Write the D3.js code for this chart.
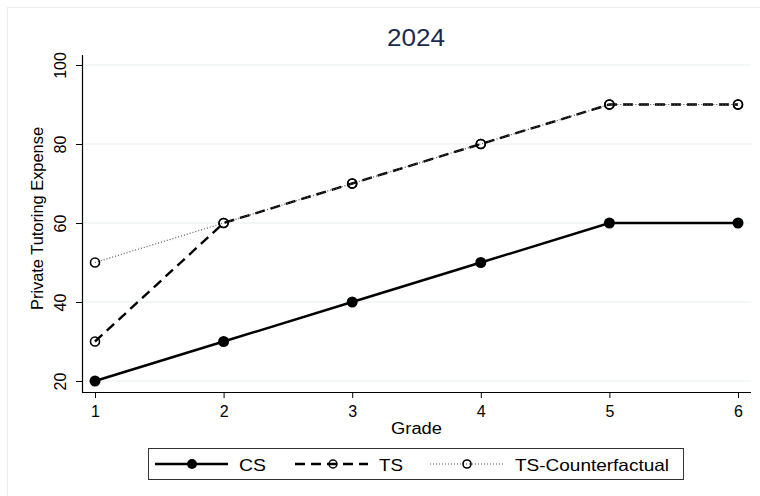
<!DOCTYPE html>
<html><head><meta charset="utf-8">
<script src="https://cdn.jsdelivr.net/npm/d3@7"></script>
<style>body{margin:0;background:#fff}svg{display:block;font-family:"Liberation Sans",Arial,sans-serif}</style>
</head><body>
<svg id="c" width="760" height="496"></svg>
<script>
const grades = [1,2,3,4,5,6];
const csValues = [20,30,40,50,60,60];
const tsValues = [30,60,70,80,90,90];
const tsCounterfactual = [50,60,70,80,90,90];
const yTicks = [20,40,60,80,100];
const title = "2024";
const legendLabels = ["CS","TS","TS-Counterfactual"];

(function(){
const svg = d3.select("#c");
svg.append("rect").attr("x",7.5).attr("y",7.5).attr("width",790).attr("height",520)
  .attr("fill","#fff").attr("stroke","#eaf0f2").attr("stroke-width",1);

const x = d3.scaleLinear().domain([1,6]).range([95,738]);
const y = d3.scaleLinear().domain([20,100]).range([381,65]);
const pLeft = 82, pRight = 751, pBottom = 392, pTop = 55;

svg.append("g").selectAll("line").data(yTicks).join("line")
  .attr("x1",pLeft).attr("x2",pRight).attr("y1",d=>y(d)).attr("y2",d=>y(d))
  .attr("stroke","#e8eff1").attr("stroke-width",1.2);

const ya = svg.append("g").attr("transform",`translate(${pLeft},0)`)
  .call(d3.axisLeft(y).tickValues(yTicks).tickSize(6).tickFormat(d3.format("d")));
ya.select(".domain").remove();
ya.append("line").attr("x1",0.5).attr("x2",0.5).attr("y1",pTop).attr("y2",pBottom).attr("stroke","#000").attr("stroke-width",1.2);
ya.selectAll(".tick line").attr("stroke","#000");
ya.selectAll(".tick text").attr("font-size",16).attr("fill","#000")
  .attr("transform","rotate(-90)").attr("x",0).attr("dy",0).attr("y",-16)
  .attr("text-anchor","middle");

const xa = svg.append("g").attr("transform",`translate(0,${pBottom})`)
  .call(d3.axisBottom(x).tickValues(grades).tickSize(6).tickFormat(d3.format("d")));
xa.select(".domain").remove();
xa.append("line").attr("x1",pLeft).attr("x2",pRight).attr("y1",0.5).attr("y2",0.5).attr("stroke","#000").attr("stroke-width",1.2);
xa.selectAll(".tick line").attr("stroke","#000");
xa.selectAll(".tick text").attr("font-size",16).attr("fill","#000").attr("y",14);

svg.append("text").attr("x",391).attr("y",434).attr("font-size",16)
  .attr("textLength",51).attr("lengthAdjust","spacingAndGlyphs").text("Grade");
svg.append("text").attr("transform","translate(43,310) rotate(-90)").attr("font-size",16)
  .attr("textLength",183).attr("lengthAdjust","spacingAndGlyphs").text("Private Tutoring Expense");
svg.append("text").attr("x",387).attr("y",46).attr("font-size",23.5).attr("fill","#1a2a4f")
  .attr("textLength",58).attr("lengthAdjust","spacingAndGlyphs").text(title);

const line = d3.line().x((d,i)=>x(grades[i])).y(d=>y(d));

svg.append("path").datum(csValues).attr("d",line).attr("fill","none").attr("stroke","#000").attr("stroke-width",2.4);
svg.append("path").datum(tsValues).attr("d",line).attr("fill","none").attr("stroke","#000").attr("stroke-width",2.4).attr("stroke-dasharray","10,6");
svg.append("path").datum(tsCounterfactual).attr("d",line).attr("fill","none").attr("stroke","#555").attr("stroke-width",1.2).attr("stroke-dasharray","1,2");

svg.append("g").selectAll("circle").data(csValues).join("circle")
  .attr("cx",(d,i)=>x(grades[i])).attr("cy",d=>y(d)).attr("r",5.5).attr("fill","#000");
svg.append("g").selectAll("circle").data(tsCounterfactual).join("circle")
  .attr("cx",(d,i)=>x(grades[i])).attr("cy",d=>y(d)).attr("r",4.5).attr("fill","none").attr("stroke","#000").attr("stroke-width",1.6);
svg.append("g").selectAll("circle").data(tsValues).join("circle")
  .attr("cx",(d,i)=>x(grades[i])).attr("cy",d=>y(d)).attr("r",4.5).attr("fill","none").attr("stroke","#000").attr("stroke-width",1.6);

const lg = svg.append("g");
lg.append("rect").attr("x",148.5).attr("y",448.5).attr("width",535).attr("height",31).attr("fill","#fff").attr("stroke","#333").attr("stroke-width",1);
const ly = 464;
const items = [
  {x1:155,x2:228,m:192,tx:239,tw:27,dash:null,w:2.4,c:"#000",fill:"#000",r:5,sw:0},
  {x1:295,x2:368,m:333,tx:379,tw:24,dash:"10,6",w:2.4,c:"#000",fill:"none",r:4,sw:1.5},
  {x1:430,x2:503,m:467,tx:515,tw:154,dash:"1,2",w:1.2,c:"#555",fill:"none",r:4,sw:1.6}
];
items.forEach((it,i)=>{
  lg.append("line").attr("x1",it.x1).attr("x2",it.x2).attr("y1",ly).attr("y2",ly)
    .attr("stroke",it.c).attr("stroke-width",it.w).attr("stroke-dasharray",it.dash);
  lg.append("circle").attr("cx",it.m).attr("cy",ly).attr("r",it.r).attr("fill",it.fill)
    .attr("stroke","#000").attr("stroke-width",it.sw);
  lg.append("text").attr("x",it.tx).attr("y",ly+7).attr("font-size",16.5)
    .attr("textLength",it.tw).attr("lengthAdjust","spacingAndGlyphs").text(legendLabels[i]);
});
})();
</script>
</body></html>
